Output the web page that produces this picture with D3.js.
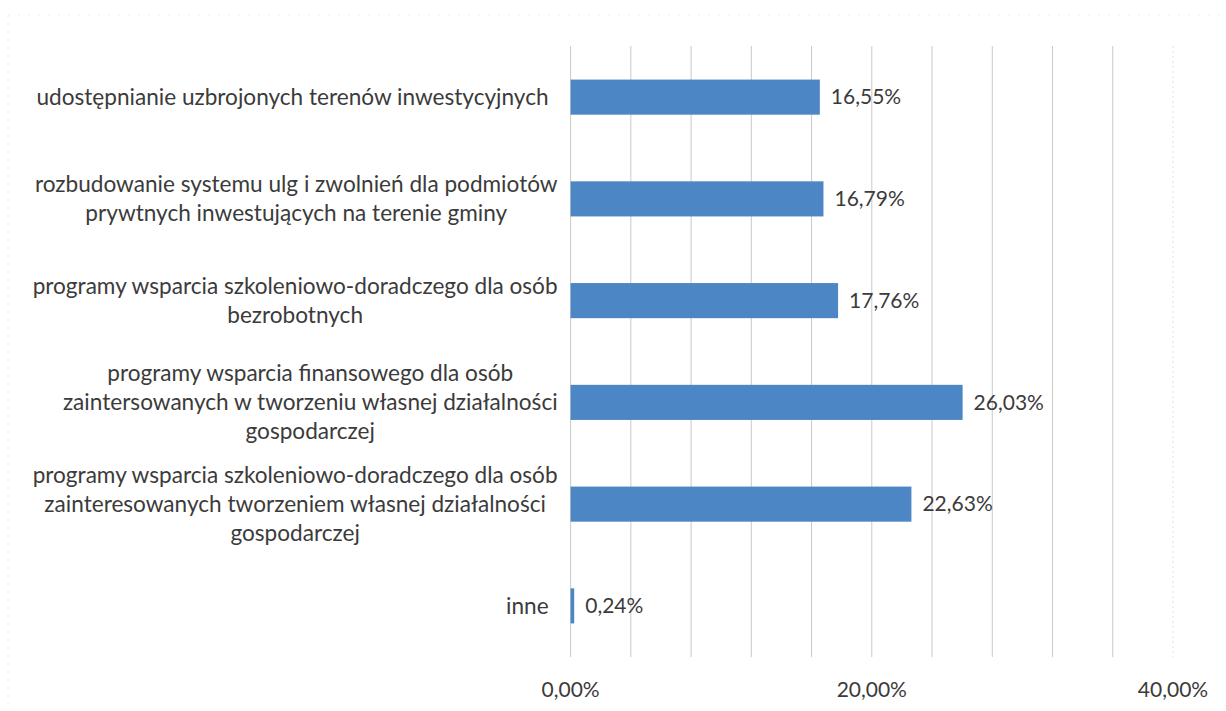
<!DOCTYPE html>
<html>
<head>
<meta charset="utf-8">
<script src="https://cdn.jsdelivr.net/npm/d3@7"></script>
<style>
  html, body { margin: 0; padding: 0; background: #fff; }
  svg text { font-family: Lato, "Open Sans", sans-serif; fill: #3b3b3b; }
</style>
</head>
<body>
<svg id="chart" width="1226" height="711"></svg>
<script>
(function() {
  var categories, values, tickValues, gridValues, svg, x, y, left, right, top, bottom, rows;

  // category labels, already broken into lines as in the original
  categories = [
    ['udostępnianie uzbrojonych terenów inwestycyjnych'],
    ['rozbudowanie systemu ulg i zwolnień dla podmiotów', 'prywtnych inwestujących na terenie gminy'],
    ['programy wsparcia szkoleniowo-doradczego dla osób', 'bezrobotnych'],
    ['programy wsparcia finansowego dla osób', 'zaintersowanych w tworzeniu własnej działalności', 'gospodarczej'],
    ['programy wsparcia szkoleniowo-doradczego dla osób', 'zainteresowanych tworzeniem własnej działalności', 'gospodarczej'],
    ['inne']
  ];
  values = [16.55, 16.79, 17.76, 26.03, 22.63, 0.24];
  tickValues = [0, 20, 40];
  gridValues = [0, 4, 8, 12, 16, 20, 24, 28, 32, 36, 40];

  left = 570.6;
  right = 1173;
  top = 46;
  bottom = 657;

  svg = d3.select('#chart');

  x = d3.scaleLinear().domain([0, 40]).range([left, right]);
  y = d3.scaleBand().domain(d3.range(categories.length)).range([top, bottom]).paddingInner(0.655).paddingOuter(0.33);

  var fmt = function(v) {
    return v.toFixed(2).replace('.', ',') + '%';
  };

  // faint outer frame of the scanned chart
  svg.append('line').attr('x1', 8).attr('x2', 1226).attr('y1', 15).attr('y2', 15)
    .attr('stroke', '#efefef').attr('stroke-dasharray', '2,8');
  svg.append('line').attr('x1', 8).attr('x2', 8).attr('y1', 15).attr('y2', 711)
    .attr('stroke', '#eaeaea').attr('stroke-dasharray', '2,6');

  // vertical gridlines
  svg.append('g').selectAll('line').data(gridValues).enter().append('line')
    .attr('x1', function(d) { return x(d); })
    .attr('x2', function(d) { return x(d); })
    .attr('y1', top)
    .attr('y2', bottom)
    .attr('stroke', function(d) { return d === 40 ? '#e2e2e2' : '#c9c9c9'; })
    .attr('stroke-dasharray', function(d) { return d === 40 ? '2,3' : null; })
    .attr('stroke-width', 1);

  // bars
  svg.append('g').selectAll('rect').data(values).enter().append('rect')
    .attr('x', x(0))
    .attr('y', function(d, i) { return y(i); })
    .attr('width', function(d) { return Math.max(2, x(d) - x(0)); })
    .attr('height', y.bandwidth())
    .attr('fill', '#4c86c4');

  // value labels
  svg.append('g').selectAll('text').data(values).enter().append('text')
    .attr('x', function(d) { return Math.max(x(d), x(0) + 2) + 11; })
    .attr('y', function(d, i) { return y(i) + y.bandwidth() / 2; })
    .attr('dy', '0.35em')
    .style('font-size', '21px')
    .text(fmt);

  // category labels (centred block, right aligned against the axis)
  rows = svg.append('g').selectAll('g').data(categories).enter().append('g');
  rows.each(function(lines, i) {
    var g, cy, lh, gap, maxW, texts;
    g = d3.select(this);
    lh = 29;
    gap = lines.length > 1 ? 13 : 22;
    cy = y(i) + y.bandwidth() / 2 - (lines.length - 1) * lh / 2;
    texts = g.selectAll('text').data(lines).enter().append('text')
      .attr('y', function(d, j) { return cy + j * lh; })
      .attr('dy', '0.35em')
      .attr('text-anchor', 'middle')
      .style('font-size', '22.6px')
      .text(function(d) { return d; });
    maxW = 0;
    texts.each(function() {
      maxW = Math.max(maxW, this.getComputedTextLength());
    });
    texts.attr('x', left - gap - maxW / 2);
  });

  // x axis tick labels
  svg.append('g').selectAll('text').data(tickValues).enter().append('text')
    .attr('x', function(d) { return x(d); })
    .attr('y', 690)
    .attr('dy', '0.35em')
    .attr('text-anchor', 'middle')
    .style('font-size', '21px')
    .text(fmt);
}).call(this);
</script>
</body>
</html>
